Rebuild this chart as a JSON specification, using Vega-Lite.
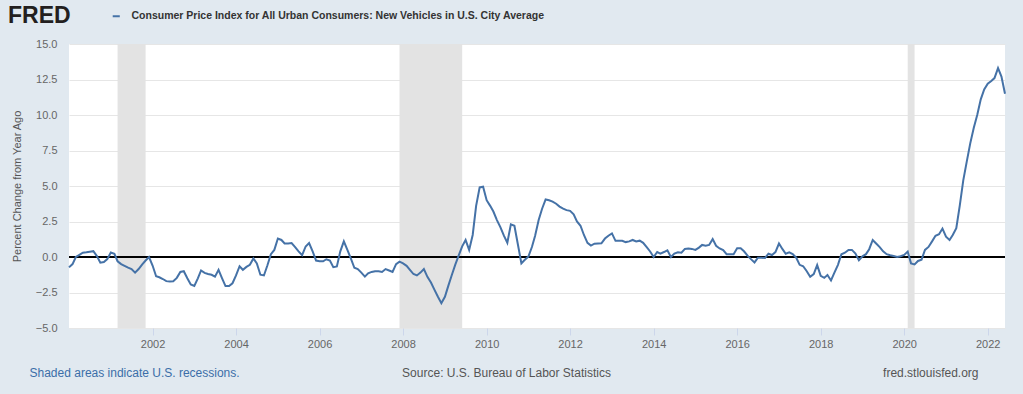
{
 "$schema": "https://vega.github.io/schema/vega-lite/v6.json",
 "width": 936, "height": 284,
 "autosize": {"type": "none"},
 "padding": {"left": 69, "top": 44, "right": 18, "bottom": 66},
 "background": "#e1e9f0",
 "config": {"view": {"fill": "#ffffff", "stroke": null}, "font": "Liberation Sans"},
 "datasets": {
  "rec": [
   {"start": "2001-03-01", "end": "2001-11-01"},
   {"start": "2007-12-01", "end": "2009-06-01"},
   {"start": "2020-02-01", "end": "2020-04-01"}
  ],
  "cpi": [
{"date":"2000-01","v":-0.73},{"date":"2000-02","v":-0.5},{"date":"2000-03","v":0.0},{"date":"2000-04","v":0.15},{"date":"2000-05","v":0.3},{"date":"2000-06","v":0.33},{"date":"2000-07","v":0.37},{"date":"2000-08","v":0.41},{"date":"2000-09","v":0.06},{"date":"2000-10","v":-0.4},{"date":"2000-11","v":-0.35},{"date":"2000-12","v":-0.15},
{"date":"2001-01","v":0.32},{"date":"2001-02","v":0.23},{"date":"2001-03","v":-0.3},{"date":"2001-04","v":-0.5},{"date":"2001-05","v":-0.62},{"date":"2001-06","v":-0.75},{"date":"2001-07","v":-0.85},{"date":"2001-08","v":-1.1},{"date":"2001-09","v":-0.85},{"date":"2001-10","v":-0.53},{"date":"2001-11","v":-0.25},{"date":"2001-12","v":0.0},
{"date":"2002-01","v":-0.6},{"date":"2002-02","v":-1.36},{"date":"2002-03","v":-1.43},{"date":"2002-04","v":-1.55},{"date":"2002-05","v":-1.7},{"date":"2002-06","v":-1.72},{"date":"2002-07","v":-1.71},{"date":"2002-08","v":-1.47},{"date":"2002-09","v":-1.05},{"date":"2002-10","v":-1.0},{"date":"2002-11","v":-1.5},{"date":"2002-12","v":-1.94},
{"date":"2003-01","v":-2.04},{"date":"2003-02","v":-1.5},{"date":"2003-03","v":-0.95},{"date":"2003-04","v":-1.12},{"date":"2003-05","v":-1.2},{"date":"2003-06","v":-1.25},{"date":"2003-07","v":-1.38},{"date":"2003-08","v":-0.9},{"date":"2003-09","v":-1.5},{"date":"2003-10","v":-2.05},{"date":"2003-11","v":-2.05},{"date":"2003-12","v":-1.85},
{"date":"2004-01","v":-1.3},{"date":"2004-02","v":-0.65},{"date":"2004-03","v":-0.9},{"date":"2004-04","v":-0.7},{"date":"2004-05","v":-0.55},{"date":"2004-06","v":-0.1},{"date":"2004-07","v":-0.45},{"date":"2004-08","v":-1.25},{"date":"2004-09","v":-1.3},{"date":"2004-10","v":-0.6},{"date":"2004-11","v":0.2},{"date":"2004-12","v":0.5},
{"date":"2005-01","v":1.3},{"date":"2005-02","v":1.2},{"date":"2005-03","v":0.95},{"date":"2005-04","v":0.95},{"date":"2005-05","v":0.98},{"date":"2005-06","v":0.7},{"date":"2005-07","v":0.4},{"date":"2005-08","v":0.13},{"date":"2005-09","v":0.74},{"date":"2005-10","v":0.98},{"date":"2005-11","v":0.4},{"date":"2005-12","v":-0.25},
{"date":"2006-01","v":-0.3},{"date":"2006-02","v":-0.3},{"date":"2006-03","v":-0.16},{"date":"2006-04","v":-0.25},{"date":"2006-05","v":-0.72},{"date":"2006-06","v":-0.67},{"date":"2006-07","v":0.4},{"date":"2006-08","v":1.1},{"date":"2006-09","v":0.5},{"date":"2006-10","v":-0.1},{"date":"2006-11","v":-0.76},{"date":"2006-12","v":-0.85},
{"date":"2007-01","v":-1.1},{"date":"2007-02","v":-1.38},{"date":"2007-03","v":-1.15},{"date":"2007-04","v":-1.05},{"date":"2007-05","v":-1.0},{"date":"2007-06","v":-1.0},{"date":"2007-07","v":-1.05},{"date":"2007-08","v":-0.85},{"date":"2007-09","v":-0.95},{"date":"2007-10","v":-1.05},{"date":"2007-11","v":-0.5},{"date":"2007-12","v":-0.33},
{"date":"2008-01","v":-0.45},{"date":"2008-02","v":-0.62},{"date":"2008-03","v":-0.9},{"date":"2008-04","v":-1.2},{"date":"2008-05","v":-1.3},{"date":"2008-06","v":-1.1},{"date":"2008-07","v":-0.85},{"date":"2008-08","v":-1.4},{"date":"2008-09","v":-1.8},{"date":"2008-10","v":-2.3},{"date":"2008-11","v":-2.8},{"date":"2008-12","v":-3.25},
{"date":"2009-01","v":-2.8},{"date":"2009-02","v":-2.0},{"date":"2009-03","v":-1.3},{"date":"2009-04","v":-0.55},{"date":"2009-05","v":0.1},{"date":"2009-06","v":0.75},{"date":"2009-07","v":1.2},{"date":"2009-08","v":0.5},{"date":"2009-09","v":1.55},{"date":"2009-10","v":3.6},{"date":"2009-11","v":4.9},{"date":"2009-12","v":4.95},
{"date":"2010-01","v":4.0},{"date":"2010-02","v":3.6},{"date":"2010-03","v":3.2},{"date":"2010-04","v":2.6},{"date":"2010-05","v":2.1},{"date":"2010-06","v":1.5},{"date":"2010-07","v":1.0},{"date":"2010-08","v":2.3},{"date":"2010-09","v":2.2},{"date":"2010-10","v":0.9},{"date":"2010-11","v":-0.45},{"date":"2010-12","v":-0.2},
{"date":"2011-01","v":0.03},{"date":"2011-02","v":0.7},{"date":"2011-03","v":1.5},{"date":"2011-04","v":2.6},{"date":"2011-05","v":3.4},{"date":"2011-06","v":4.05},{"date":"2011-07","v":4.0},{"date":"2011-08","v":3.9},{"date":"2011-09","v":3.75},{"date":"2011-10","v":3.55},{"date":"2011-11","v":3.4},{"date":"2011-12","v":3.3},
{"date":"2012-01","v":3.25},{"date":"2012-02","v":3.0},{"date":"2012-03","v":2.5},{"date":"2012-04","v":2.2},{"date":"2012-05","v":1.55},{"date":"2012-06","v":1.0},{"date":"2012-07","v":0.8},{"date":"2012-08","v":0.94},{"date":"2012-09","v":0.95},{"date":"2012-10","v":0.96},{"date":"2012-11","v":1.3},{"date":"2012-12","v":1.5},
{"date":"2013-01","v":1.66},{"date":"2013-02","v":1.14},{"date":"2013-03","v":1.15},{"date":"2013-04","v":1.14},{"date":"2013-05","v":1.05},{"date":"2013-06","v":1.1},{"date":"2013-07","v":1.2},{"date":"2013-08","v":1.09},{"date":"2013-09","v":1.15},{"date":"2013-10","v":1.0},{"date":"2013-11","v":0.69},{"date":"2013-12","v":0.39},
{"date":"2014-01","v":0.0},{"date":"2014-02","v":0.35},{"date":"2014-03","v":0.24},{"date":"2014-04","v":0.35},{"date":"2014-05","v":0.47},{"date":"2014-06","v":0.0},{"date":"2014-07","v":0.24},{"date":"2014-08","v":0.33},{"date":"2014-09","v":0.3},{"date":"2014-10","v":0.57},{"date":"2014-11","v":0.6},{"date":"2014-12","v":0.57},
{"date":"2015-01","v":0.5},{"date":"2015-02","v":0.66},{"date":"2015-03","v":0.85},{"date":"2015-04","v":0.8},{"date":"2015-05","v":0.85},{"date":"2015-06","v":1.26},{"date":"2015-07","v":0.79},{"date":"2015-08","v":0.6},{"date":"2015-09","v":0.48},{"date":"2015-10","v":0.2},{"date":"2015-11","v":0.19},{"date":"2015-12","v":0.2},
{"date":"2016-01","v":0.61},{"date":"2016-02","v":0.61},{"date":"2016-03","v":0.4},{"date":"2016-04","v":0.1},{"date":"2016-05","v":-0.15},{"date":"2016-06","v":-0.38},{"date":"2016-07","v":-0.05},{"date":"2016-08","v":-0.05},{"date":"2016-09","v":-0.07},{"date":"2016-10","v":0.23},{"date":"2016-11","v":0.14},{"date":"2016-12","v":0.35},
{"date":"2017-01","v":0.95},{"date":"2017-02","v":0.55},{"date":"2017-03","v":0.23},{"date":"2017-04","v":0.33},{"date":"2017-05","v":0.2},{"date":"2017-06","v":-0.05},{"date":"2017-07","v":-0.55},{"date":"2017-08","v":-0.65},{"date":"2017-09","v":-1.0},{"date":"2017-10","v":-1.4},{"date":"2017-11","v":-1.2},{"date":"2017-12","v":-0.57},
{"date":"2018-01","v":-1.33},{"date":"2018-02","v":-1.47},{"date":"2018-03","v":-1.27},{"date":"2018-04","v":-1.65},{"date":"2018-05","v":-1.1},{"date":"2018-06","v":-0.55},{"date":"2018-07","v":0.19},{"date":"2018-08","v":0.3},{"date":"2018-09","v":0.5},{"date":"2018-10","v":0.5},{"date":"2018-11","v":0.24},{"date":"2018-12","v":-0.23},
{"date":"2019-01","v":0.05},{"date":"2019-02","v":0.2},{"date":"2019-03","v":0.55},{"date":"2019-04","v":1.2},{"date":"2019-05","v":0.95},{"date":"2019-06","v":0.7},{"date":"2019-07","v":0.4},{"date":"2019-08","v":0.2},{"date":"2019-09","v":0.12},{"date":"2019-10","v":0.07},{"date":"2019-11","v":0.0},{"date":"2019-12","v":0.05},
{"date":"2020-01","v":0.15},{"date":"2020-02","v":0.38},{"date":"2020-03","v":-0.45},{"date":"2020-04","v":-0.52},{"date":"2020-05","v":-0.28},{"date":"2020-06","v":-0.19},{"date":"2020-07","v":0.5},{"date":"2020-08","v":0.71},{"date":"2020-09","v":1.1},{"date":"2020-10","v":1.5},{"date":"2020-11","v":1.6},{"date":"2020-12","v":2.0},
{"date":"2021-01","v":1.43},{"date":"2021-02","v":1.2},{"date":"2021-03","v":1.55},{"date":"2021-04","v":2.03},{"date":"2021-05","v":3.6},{"date":"2021-06","v":5.4},{"date":"2021-07","v":6.7},{"date":"2021-08","v":8.0},{"date":"2021-09","v":9.1},{"date":"2021-10","v":10.0},{"date":"2021-11","v":11.1},{"date":"2021-12","v":11.8},
{"date":"2022-01","v":12.2},{"date":"2022-02","v":12.4},{"date":"2022-03","v":12.6},{"date":"2022-04","v":13.3},{"date":"2022-05","v":12.7},{"date":"2022-06","v":11.5}
  ]
 },
 "layer": [
  {
   "data": {"name": "rec"},
   "mark": {"type": "rect", "color": "#e3e3e3"},
   "encoding": {
    "x": {"field": "start", "type": "temporal",
     "scale": {"type": "utc", "domain": [{"year": 2000, "month": 1, "date": 1, "utc": true}, {"year": 2022, "month": 6, "date": 1, "utc": true}]},
     "axis": {"orient": "bottom", "labels": false, "ticks": false, "domain": false, "grid": false,
      "title": "Shaded areas indicate U.S. recessions.", "titleX": -40, "titleY": 44, "titleAlign": "left", "titleBaseline": "middle",
      "titleFontSize": 12, "titleFontWeight": "normal", "titleColor": "#3b6ea8"}},
    "x2": {"field": "end"}
   }
  },
  {
   "data": {"values": [{}]},
   "mark": {"type": "rule", "color": "#000000", "strokeWidth": 2},
   "encoding": {
    "y": {"datum": 0, "type": "quantitative", "scale": {"domain": [-5, 15], "nice": false, "zero": false},
     "axis": {"orient": "right", "labels": false, "ticks": false, "domain": false, "grid": false,
      "title": "fred.stlouisfed.org", "titleAngle": 0, "titleX": -27, "titleY": 328, "titleAlign": "right", "titleBaseline": "middle",
      "titleFontSize": 12, "titleFontWeight": "normal", "titleColor": "#555555"}}
   }
  },
  {
   "data": {"name": "cpi"},
   "mark": {"type": "line", "strokeWidth": 2},
   "encoding": {
    "x": {"field": "date", "type": "temporal",
     "scale": {"type": "utc", "domain": [{"year": 2000, "month": 1, "date": 1, "utc": true}, {"year": 2022, "month": 6, "date": 1, "utc": true}]},
     "axis": {"orient": "bottom", "values": [{"year": 2002, "utc": true}, {"year": 2004, "utc": true}, {"year": 2006, "utc": true}, {"year": 2008, "utc": true}, {"year": 2010, "utc": true}, {"year": 2012, "utc": true}, {"year": 2014, "utc": true}, {"year": 2016, "utc": true}, {"year": 2018, "utc": true}, {"year": 2020, "utc": true}, {"year": 2022, "utc": true}],
      "format": "%Y", "grid": false, "domain": false, "tickSize": 7, "tickColor": "#ccd6eb", "labelPadding": 3, "labelFlush": false,
      "labelFontSize": 11, "labelColor": "#666666",
      "title": "Source: U.S. Bureau of Labor Statistics", "titleX": 437, "titleY": 44, "titleAlign": "center", "titleBaseline": "middle",
      "titleFontSize": 12, "titleFontWeight": "normal", "titleColor": "#555555"}},
    "y": {"field": "v", "type": "quantitative", "scale": {"domain": [-5, 15], "nice": false, "zero": false},
     "axis": {"orient": "left", "values": [-5, -2.5, 0, 2.5, 5, 7.5, 10, 12.5, 15], "format": ".1f", "grid": true, "gridColor": "#e6e6e6",
      "domain": false, "ticks": false, "labelPadding": 12, "labelFlush": false, "labelFontSize": 11, "labelColor": "#666666",
      "title": "Percent Change from Year Ago", "titleX": -52, "titleY": 142, "titleAngle": -90, "titleAlign": "center", "titleBaseline": "middle",
      "titleFontSize": 11, "titleFontWeight": "normal", "titleColor": "#555555"}},
    "color": {"datum": "Consumer Price Index for All Urban Consumers: New Vehicles in U.S. City Average", "type": "nominal",
     "scale": {"range": ["#4572a7"]},
     "legend": {"orient": "none", "legendX": -61, "legendY": -33, "direction": "horizontal",
      "title": "FRED", "titleOrient": "left", "titleFontSize": 23, "titleFontWeight": 900, "titleColor": "#231f20", "titlePadding": 40,
      "symbolType": "stroke", "symbolStrokeWidth": 2, "symbolSize": 50, "labelFontSize": 10.5, "labelFontWeight": "bold", "labelColor": "#333333",
      "labelLimit": 800, "labelOffset": 10}}
   }
  }
 ],
 "resolve": {"scale": {"x": "independent", "y": "independent", "color": "independent"}}
}
